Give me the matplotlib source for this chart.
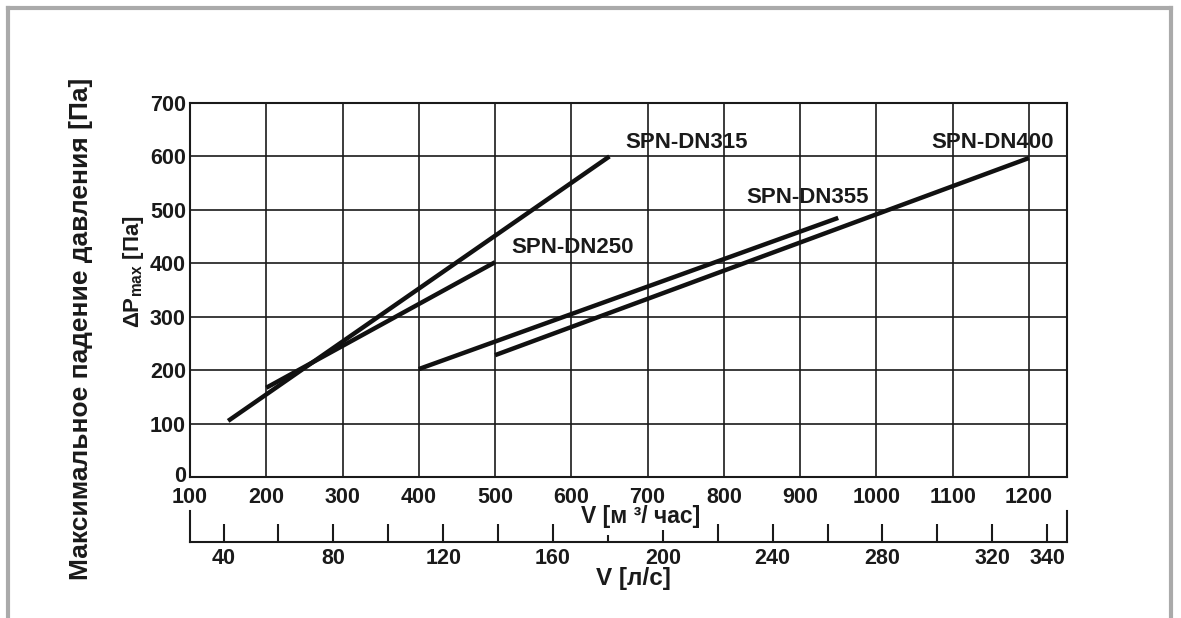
import matplotlib
matplotlib.use('Agg')
import matplotlib.pyplot as plt
from matplotlib.lines import Line2D
from matplotlib.transforms import ScaledTranslation

plt.rcParams['font.family'] = ['Liberation Sans', 'DejaVu Sans']
plt.rcParams['font.weight'] = 'bold'
plt.rcParams['mathtext.fontset'] = 'custom'
plt.rcParams['mathtext.rm'] = 'Liberation Sans'
plt.rcParams['mathtext.it'] = 'Liberation Sans'
plt.rcParams['mathtext.bf'] = 'Liberation Sans:bold'

# ---------------------------------------------------------------------------
# Data: flow V [m3/h] vs max pressure drop [Pa]
# ---------------------------------------------------------------------------
names = ['SPN-DN315', 'SPN-DN250', 'SPN-DN355', 'SPN-DN400']
flow_m3h = [[150, 650], [200, 500], [400, 950], [500, 1200]]
dp_pa = [[105, 600], [167, 402], [202, 485], [228, 597]]
label_pos = [(671, 627), (522, 430), (829, 524), (1072, 627)]

x_ticks = [100, 200, 300, 400, 500, 600, 700, 800, 900, 1000, 1100, 1200]
y_ticks = [0, 100, 200, 300, 400, 500, 600, 700]
ls_ticks = [40, 60, 80, 100, 120, 140, 160, 180, 200, 220, 240, 260, 280, 300, 320, 340]
ls_labels = [40, 80, 120, 160, 200, 240, 280, 320, 340]
M3H_PER_LS = 3.6

X_MIN, X_MAX = 100, 1250
W, H = 1181, 618
INK = '#1a1a1a'

fig = plt.figure(figsize=(W / 100, H / 100), dpi=100)

# grey frame around the picture
for xs, ys in [([8 / W, 8 / W], [0, 1 - 8 / H]),
               ([8 / W, 1171 / W], [1 - 8 / H, 1 - 8 / H]),
               ([1171 / W, 1171 / W], [1 - 8 / H, 0])]:
    fig.add_artist(Line2D(xs, ys, color='#aaaaaa', lw=3, transform=fig.transFigure))

# main chart
ax = fig.add_axes([190 / W, 1 - 477 / H, 877 / W, 374 / H])
ax.set_xlim(X_MIN, X_MAX)
ax.set_ylim(0, 700)
ax.set_xticks(x_ticks)
ax.set_yticks(y_ticks)
ax.grid(True, color=INK, lw=1.2)
ax.set_axisbelow(True)
ax.tick_params(length=0, labelsize=15.5, labelcolor=INK)
ax.tick_params(axis='x', pad=7)
ax.tick_params(axis='y', pad=3)
for s in ax.spines.values():
    s.set_linewidth(1.5)
    s.set_color(INK)

# the "0" label sits slightly above the bottom axis line
zero_lbl = ax.yaxis.get_major_ticks()[0].label1
zero_lbl.set_transform(zero_lbl.get_transform() + ScaledTranslation(0, 3 / 100, fig.dpi_scale_trans))

for name, xs, ys, pos in zip(names, flow_m3h, dp_pa, label_pos):
    ax.plot(xs, ys, color='#111111', lw=3.2, solid_capstyle='butt')
    ax.text(pos[0], pos[1], name, fontsize=16, fontweight='bold', ha='left', va='center',
            color=INK)

# secondary scale in l/s
ax2 = fig.add_axes([190 / W, 1 - 542 / H, 877 / W, 31 / H])
ax2.set_xlim(X_MIN / M3H_PER_LS, X_MAX / M3H_PER_LS)
ax2.set_ylim(0, 1)
ax2.set_yticks([])
ax2.patch.set_visible(False)
ax2.spines['top'].set_visible(False)
for s in ax2.spines.values():
    s.set_linewidth(1.5)
    s.set_color(INK)
ax2.set_xticks(ls_ticks)
ax2.set_xticklabels([str(v) if v in ls_labels else '' for v in ls_ticks])
ax2.tick_params(axis='x', direction='in', length=13, width=1.5, labelsize=15.5, pad=4,
                color=INK, labelcolor=INK)
for t, v in zip(ax2.xaxis.get_major_ticks(), ls_ticks):
    if v == 180:
        t.tick1line.set_markersize(5)
    if v == 200:
        t.tick1line.set_markersize(9)

fig.text(641 / W, 1 - 517 / H, 'V [м ³/ час]', fontsize=16.5, fontweight='bold',
         ha='center', va='center', color=INK)
fig.text(633 / W, 1 - 578 / H, 'V [л/с]', fontsize=17.5, fontweight='bold',
         ha='center', va='center', color=INK)
fig.text(81 / W, 1 - 329 / H, 'Максимальное падение давления [Па]', fontsize=19,
         fontweight='bold', rotation=90, ha='center', va='center', color=INK)
fig.text(133 / W, 1 - 272 / H, r'$\Delta$P$_{\mathrm{max}}$ [Па]', fontsize=16,
         fontweight='bold', rotation=90, ha='center', va='center', color=INK)

fig.savefig('out.png', dpi=100)
